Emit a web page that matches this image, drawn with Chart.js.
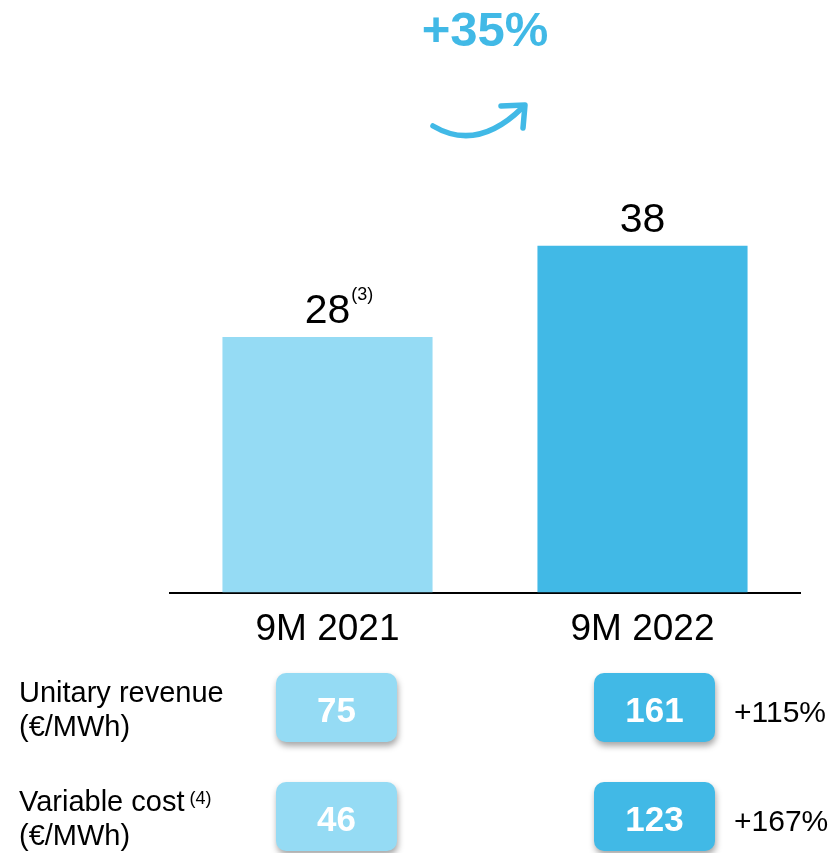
<!DOCTYPE html>
<html>
<head>
<meta charset="utf-8">
<script src="https://cdn.jsdelivr.net/npm/chart.js@4"></script>
<style>
  html, body { margin: 0; padding: 0; background: #fff; }
  canvas { display: block; }
</style>
</head>
<body>
<canvas id="marginChart" width="836" height="853"></canvas>
<script>
const periods = ['9M 2021', '9M 2022'];
const margin = [28, 38];
const marginNotes = ['(3)', ''];
const growthLabel = '+35%';
const unitaryRevenue = [75, 161];
const variableCost = [46, 123];
const revenueChange = '+115%';
const costChange = '+167%';
const rowLabels = [['Unitary revenue', '(€/MWh)'], ['Variable cost', '(€/MWh)']];
const rowNotes = ['', '(4)'];

const LIGHT = '#95dbf4';
const DARK = '#41b9e6';
const FONT = 'Arial, "Liberation Sans", sans-serif';

// value labels, growth arrow and the small table under the axis
const extrasPlugin = {
    id: 'extras',
    afterDatasetsDraw(chart) {
        const ctx = chart.ctx;
        const bars = chart.getDatasetMeta(0).data;

        ctx.save();
        ctx.fillStyle = '#000';
        ctx.textBaseline = 'alphabetic';
        bars.forEach(function (bar, i) {
            ctx.font = '41px ' + FONT;
            ctx.textAlign = 'center';
            const y = bar.y - 14;
            ctx.fillText(String(margin[i]), bar.x, y);
            if (marginNotes[i]) {
                const w = ctx.measureText(String(margin[i])).width;
                ctx.font = '18px ' + FONT;
                ctx.textAlign = 'left';
                ctx.fillText(marginNotes[i], bar.x + w / 2 + 1, y - 23);
            }
        });

        // growth label + arrow, centred between the bars
        const mid = (bars[0].x + bars[1].x) / 2;
        ctx.fillStyle = DARK;
        ctx.font = 'bold 49px ' + FONT;
        ctx.textAlign = 'center';
        ctx.fillText(growthLabel, mid, 46);

        ctx.strokeStyle = DARK;
        ctx.lineWidth = 5.5;
        ctx.lineCap = 'round';
        ctx.lineJoin = 'round';
        ctx.beginPath();
        ctx.moveTo(mid - 52, 126);
        ctx.quadraticCurveTo(mid - 8, 152, mid + 37, 108);
        ctx.stroke();
        ctx.beginPath();
        ctx.moveTo(mid + 16, 106);
        ctx.lineTo(mid + 40, 105);
        ctx.lineTo(mid + 38, 128);
        ctx.stroke();

        // table rows
        const rows = [
            { label: rowLabels[0], note: rowNotes[0], values: unitaryRevenue, change: revenueChange },
            { label: rowLabels[1], note: rowNotes[1], values: variableCost, change: costChange }
        ];
        const colors = [LIGHT, DARK];
        const shift = [9, 12];
        rows.forEach(function (row, r) {
            const top = 673 + r * 109;

            ctx.fillStyle = '#000';
            ctx.textAlign = 'left';
            ctx.font = '29px ' + FONT;
            ctx.fillText(row.label[0], 19, top + 29);
            ctx.fillText(row.label[1], 19, top + 63);
            if (row.note) {
                const w = ctx.measureText(row.label[0]).width;
                ctx.font = '18px ' + FONT;
                ctx.fillText(row.note, 19 + w + 5, top + 22);
            }

            row.values.forEach(function (v, i) {
                const cx = bars[i].x + shift[i];
                const bw = 121, bh = 69;
                ctx.save();
                ctx.shadowColor = 'rgba(0,0,0,0.35)';
                ctx.shadowBlur = 6;
                ctx.shadowOffsetX = 1;
                ctx.shadowOffsetY = 4;
                ctx.fillStyle = colors[i];
                ctx.beginPath();
                ctx.roundRect(cx - bw / 2, top, bw, bh, 10);
                ctx.fill();
                ctx.restore();

                ctx.fillStyle = '#fff';
                ctx.font = 'bold 35px ' + FONT;
                ctx.textAlign = 'center';
                ctx.fillText(String(v), cx, top + 49);
            });

            ctx.fillStyle = '#000';
            ctx.font = '30px ' + FONT;
            ctx.textAlign = 'left';
            ctx.fillText(row.change, 734, top + 49);
        });
        ctx.restore();
    }
};

new Chart(document.getElementById('marginChart').getContext('2d'), {
    type: 'bar',
    data: {
        labels: periods,
        datasets: [{
            data: margin,
            backgroundColor: [LIGHT, DARK],
            barPercentage: 0.667,
            categoryPercentage: 1
        }]
    },
    options: {
        responsive: false,
        animation: false,
        events: [],
        layout: { padding: { left: 170, right: 36, top: 45, bottom: 194 } },
        plugins: { legend: { display: false }, tooltip: { enabled: false } },
        scales: {
            x: {
                grid: { display: false },
                border: { display: true, color: '#000', width: 2 },
                ticks: { color: '#000', padding: 7, font: { family: FONT, size: 37 } }
            },
            y: { display: false, min: 0, max: 60 }
        }
    },
    plugins: [extrasPlugin]
});
</script>
</body>
</html>
